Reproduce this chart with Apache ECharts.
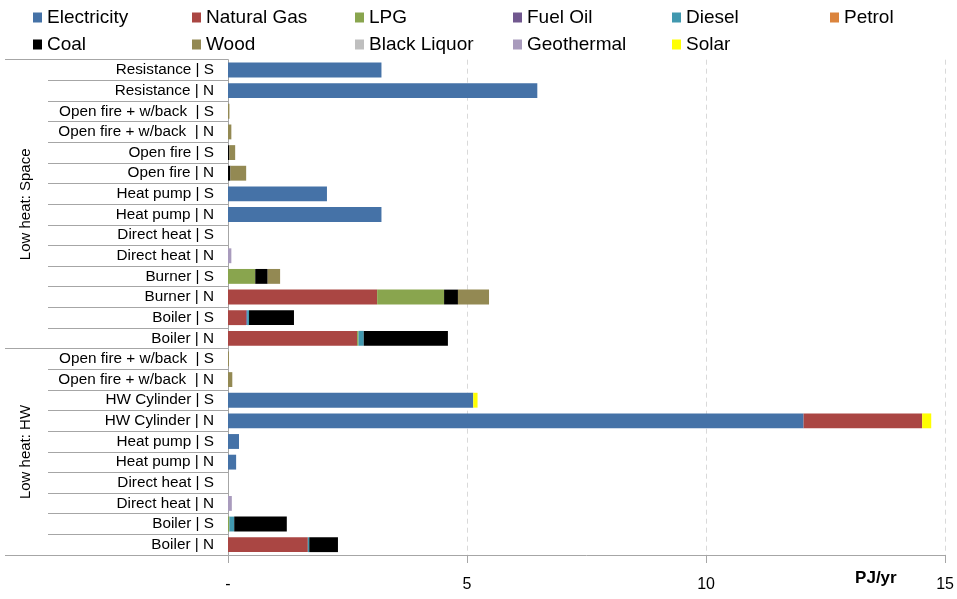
<!DOCTYPE html>
<html>
<head>
<meta charset="utf-8">
<script src="https://cdn.jsdelivr.net/npm/echarts@6/dist/echarts.min.js"></script>
<style>
  html, body { margin: 0; padding: 0; background: #fff; }
  #main { width: 957px; height: 599px; }
</style>
</head>
<body>
<div id="main"></div>
<script>
// categories, top to bottom
var categories = [
  'Resistance | S', 'Resistance | N',
  'Open fire + w/back  | S', 'Open fire + w/back  | N',
  'Open fire | S', 'Open fire | N',
  'Heat pump | S', 'Heat pump | N',
  'Direct heat | S', 'Direct heat | N',
  'Burner | S', 'Burner | N',
  'Boiler | S', 'Boiler | N',
  'Open fire + w/back  | S', 'Open fire + w/back  | N',
  'HW Cylinder | S', 'HW Cylinder | N',
  'Heat pump | S', 'Heat pump | N',
  'Direct heat | S', 'Direct heat | N',
  'Boiler | S', 'Boiler | N'
];
// group name of each category row
var groupOf = [
  'Low heat: Space', 'Low heat: Space', 'Low heat: Space', 'Low heat: Space',
  'Low heat: Space', 'Low heat: Space', 'Low heat: Space', 'Low heat: Space',
  'Low heat: Space', 'Low heat: Space', 'Low heat: Space', 'Low heat: Space',
  'Low heat: Space', 'Low heat: Space',
  'Low heat: HW', 'Low heat: HW', 'Low heat: HW', 'Low heat: HW', 'Low heat: HW',
  'Low heat: HW', 'Low heat: HW', 'Low heat: HW', 'Low heat: HW', 'Low heat: HW'
];
var xTicks = [0, 5, 10, 15];

// PJ/yr per fuel, same order as categories
var electricity = [3.21, 6.47, 0, 0, 0, 0, 2.07, 3.21, 0, 0, 0, 0, 0, 0, 0, 0, 5.13, 12.04, 0.23, 0.17, 0, 0, 0, 0];
var naturalGas  = [0, 0, 0, 0, 0, 0, 0, 0, 0, 0, 0, 3.12, 0.38, 2.70, 0, 0, 0, 2.48, 0, 0, 0, 0, 0, 1.67];
var lpg         = [0, 0, 0, 0, 0, 0, 0, 0, 0, 0, 0.57, 1.40, 0, 0.03, 0, 0, 0, 0, 0, 0, 0, 0, 0.03, 0];
var fuelOil     = [0, 0, 0, 0, 0, 0, 0, 0, 0, 0, 0, 0, 0.02, 0, 0, 0, 0, 0, 0, 0, 0, 0, 0, 0];
var diesel      = [0, 0, 0, 0, 0, 0, 0, 0, 0, 0, 0, 0, 0.04, 0.11, 0, 0, 0, 0, 0, 0, 0, 0, 0.10, 0.03];
var petrol      = [0, 0, 0, 0, 0, 0, 0, 0, 0, 0, 0, 0, 0, 0, 0, 0, 0, 0, 0, 0, 0, 0, 0, 0];
var coal        = [0, 0, 0, 0, 0.03, 0.05, 0, 0, 0, 0, 0.26, 0.29, 0.94, 1.76, 0, 0, 0, 0, 0, 0, 0, 0, 1.10, 0.60];
var wood        = [0, 0, 0.03, 0.07, 0.12, 0.33, 0, 0, 0, 0, 0.26, 0.65, 0, 0, 0.02, 0.09, 0, 0, 0, 0, 0, 0, 0, 0];
var blackLiquor = [0, 0, 0, 0, 0, 0, 0, 0, 0, 0, 0, 0, 0, 0, 0, 0, 0, 0, 0, 0, 0, 0, 0, 0];
var geothermal  = [0, 0, 0, 0, 0, 0, 0, 0, 0, 0.07, 0, 0, 0, 0, 0, 0, 0, 0, 0, 0, 0, 0.08, 0, 0];
var solar       = [0, 0, 0, 0, 0, 0, 0, 0, 0, 0, 0, 0, 0, 0, 0, 0, 0.09, 0.19, 0, 0, 0, 0, 0, 0];

var fuels = [
  { name: 'Electricity',  color: '#4572A7', data: electricity },
  { name: 'Natural Gas',  color: '#AA4643', data: naturalGas },
  { name: 'LPG',          color: '#89A54E', data: lpg },
  { name: 'Fuel Oil',     color: '#71588F', data: fuelOil },
  { name: 'Diesel',       color: '#4198AF', data: diesel },
  { name: 'Petrol',       color: '#DB843D', data: petrol },
  { name: 'Coal',         color: '#000000', data: coal },
  { name: 'Wood',         color: '#938953', data: wood },
  { name: 'Black Liquor', color: '#BFBFBF', data: blackLiquor },
  { name: 'Geothermal',   color: '#A99BBD', data: geothermal },
  { name: 'Solar',        color: '#FFFF00', data: solar }
];

var font = 'Liberation Sans, Arial, sans-serif';
var axisGray = '#a6a6a6';

// group boundaries and the row just above each group's middle
var groupStarts = [];
var groupLabelRows = {};
groupOf.forEach(function (g, i) {
  if (i === 0 || groupOf[i - 1] !== g) groupStarts.push(i);
});
groupStarts.forEach(function (s, k) {
  var end = k + 1 < groupStarts.length ? groupStarts[k + 1] : groupOf.length;
  groupLabelRows[Math.floor((s + end - 1) / 2)] = true;
});

// legend: 6 columns, 2 rows
var legendLeft = [33, 192, 355, 513, 672, 830];
var legends = legendLeft.map(function (x, i) {
  var items = [fuels[i].name];
  if (fuels[i + 6]) items.push(fuels[i + 6].name);
  return {
    orient: 'vertical',
    left: x,
    top: 8,
    padding: 0,
    itemWidth: 9,
    itemHeight: 10,
    itemGap: 8,
    icon: 'rect',
    data: items,
    textStyle: { fontFamily: font, fontSize: 19, color: '#000', padding: [0, 0, 0, 0] }
  };
});

var myChart = echarts.init(document.getElementById('main'));
myChart.setOption({
  animation: false,
  legend: legends,
  grid: { left: 228, right: 9, top: 59.7, bottom: 44, containLabel: false },
  xAxis: {
    type: 'value',
    min: 0,
    max: 15,
    interval: 5,
    name: 'PJ/yr',
    nameLocation: 'end',
    nameGap: -90,
    nameTextStyle: { fontFamily: font, fontSize: 17, fontWeight: 'bold', color: '#000', verticalAlign: 'top', padding: [15, 0, 0, 0] },
    axisLine: { show: true, lineStyle: { color: axisGray } },
    axisTick: { show: true, length: 8, lineStyle: { color: axisGray } },
    axisLabel: {
      margin: 22,
      fontFamily: font,
      fontSize: 16,
      color: '#000',
      formatter: function (v) { return v === 0 ? '-' : String(v); }
    },
    splitLine: { show: true, lineStyle: { color: '#d9d9d9', type: [5, 4] } }
  },
  yAxis: [
    {
      type: 'category',
      data: categories,
      inverse: true,
      axisLine: { show: true, lineStyle: { color: axisGray } },
      axisTick: { show: true, length: 180, lineStyle: { color: axisGray } },
      axisLabel: { margin: 14, fontFamily: font, fontSize: 15.3, color: '#000' }
    },
    {
      type: 'category',
      data: groupOf,
      inverse: true,
      position: 'left',
      axisLine: { show: false },
      axisTick: {
        show: true,
        length: 223,
        lineStyle: { color: axisGray },
        interval: function (idx) {
          return idx >= groupOf.length || groupStarts.indexOf(idx) >= 0;
        }
      },
      axisLabel: {
        rotate: 90,
        margin: 195,
        interval: 0,
        fontFamily: font,
        fontSize: 15,
        color: '#000',
        padding: [0, 21, 0, 0],
        formatter: function (v, idx) { return groupLabelRows[idx] ? v : ''; }
      }
    }
  ],
  series: fuels.map(function (f) {
    return {
      name: f.name,
      type: 'bar',
      stack: 'total',
      yAxisIndex: 0,
      barWidth: '72%',
      itemStyle: { color: f.color },
      data: f.data
    };
  })
});
</script>
</body>
</html>
